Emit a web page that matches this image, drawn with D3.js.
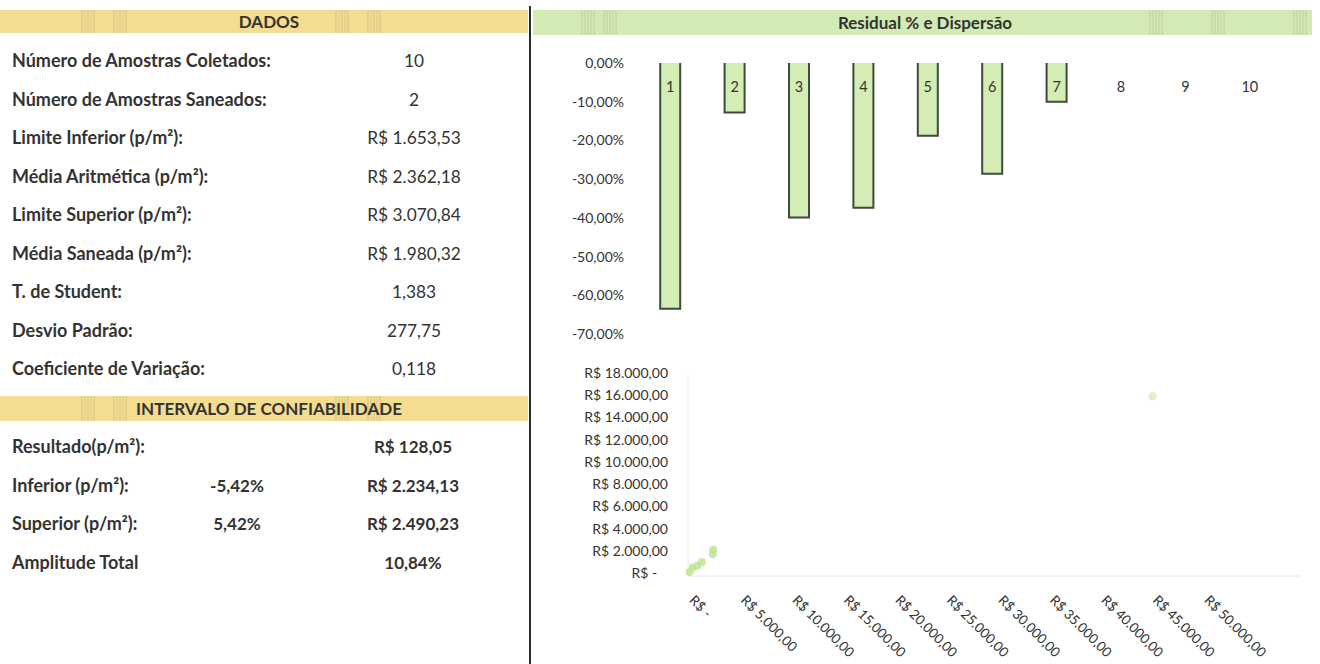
<!DOCTYPE html>
<html>
<head>
<meta charset="utf-8">
<script src="https://cdn.jsdelivr.net/npm/d3@7"></script>
<style>
  body { margin: 0; background: #fff; }
  text { font-family: Lato, "Open Sans", sans-serif; fill: #333; }
  .lbl { font-weight: 700; font-size: 18px; }
  .val { font-size: 17.3px; }
  .bold { font-weight: 700; }
  .tick text { font-size: 14px; }
</style>
</head>
<body>
<div id="chart"></div>
<script>
// ---- data ----
const dadosLabels = ['Número de Amostras Coletados:', 'Número de Amostras Saneados:', 'Limite Inferior (p/m²):',
  'Média Aritmética (p/m²):', 'Limite Superior (p/m²):', 'Média Saneada (p/m²):', 'T. de Student:',
  'Desvio Padrão:', 'Coeficiente de Variação:']
const dadosValues = ['10', '2', 'R$ 1.653,53', 'R$ 2.362,18', 'R$ 3.070,84', 'R$ 1.980,32', '1,383', '277,75', '0,118']
const icLabels = ['Resultado(p/m²):', 'Inferior (p/m²):', 'Superior (p/m²):', 'Amplitude Total']
const icPct = ['', '-5,42%', '5,42%', '']
const icValues = ['R$ 128,05', 'R$ 2.234,13', 'R$ 2.490,23', '10,84%']

const samples = ['1', '2', '3', '4', '5', '6', '7', '8', '9', '10']
const residuals = [-63.5, -12.8, -39.9, -37.4, -18.8, -28.6, -10.0, 0, 0, 0]
const residualTicks = [0, -10, -20, -30, -40, -50, -60, -70]

const scatterX = [150, 450, 900, 1350, 2400, 2450, 45100]
const scatterY = [100, 500, 650, 1000, 1700, 2100, 15900]
const priceTicksY = [0, 2000, 4000, 6000, 8000, 10000, 12000, 14000, 16000, 18000]
const priceTicksX = [0, 5000, 10000, 15000, 20000, 25000, 30000, 35000, 40000, 45000, 50000]

let width = 1320
let height = 664

let ptBR = d3.formatLocale({decimal: ',', thousands: '.', grouping: [3], currency: ['R$ ', ''], minus: '-'})
let fmtMoney = v => v === 0 ? 'R$ -' : ptBR.format('$,.2f')(v)
let fmtPct = v => ptBR.format('.2f')(v) + '%'

let svg = d3.select('#chart').append('svg').attr('width', width).attr('height', height)

// header bands with a bit of scan texture
function header(x0, x1, y0, y1, color, stripes, title, cx) {
    svg.append('rect').attr('x', x0).attr('y', y0).attr('width', x1 - x0).attr('height', y1 - y0).attr('fill', color)
    stripes.forEach(s => {
        for (let k = 0; k < 5; k++) {
            svg.append('line').attr('x1', s + k * 3).attr('x2', s + k * 3).attr('y1', y0).attr('y2', y1)
                .attr('stroke', k % 2 ? '#9fb98a' : '#b9a070').attr('stroke-width', 0.8).attr('opacity', 0.55)
        }
    })
    svg.append('text').attr('x', cx).attr('y', (y0 + y1) / 2 + 6).attr('text-anchor', 'middle')
        .attr('class', 'bold').style('font-size', '17px').text(title)
}
header(0, 528, 10, 33, '#f4dc90', [82, 114, 336, 368], 'DADOS', 269)
header(533, 1312, 10, 35, '#d2ebb4', [582, 604, 1150, 1212, 1294], 'Residual % e Dispersão', 925)
header(0, 528, 396, 421, '#f4dc90', [82, 114, 336, 368], 'INTERVALO DE CONFIABILIDADE', 269)

// divider
svg.append('line').attr('x1', 530).attr('x2', 530).attr('y1', 6).attr('y2', height).attr('stroke', '#2a2a2a').attr('stroke-width', 2)

// left table
let rowY = d3.scaleLinear().domain([0, 8]).range([61, 369])
dadosLabels.forEach((l, i) => {
    svg.append('text').attr('class', 'lbl').attr('x', 12).attr('y', rowY(i) + 6).text(l)
    svg.append('text').attr('class', 'val').attr('x', 414).attr('y', rowY(i) + 6).attr('text-anchor', 'middle').text(dadosValues[i])
})
let icY = d3.scaleLinear().domain([0, 3]).range([447, 563])
icLabels.forEach((l, i) => {
    svg.append('text').attr('class', 'lbl').attr('x', 12).attr('y', icY(i) + 6).text(l)
    svg.append('text').attr('class', 'lbl').style('font-size', '17px').attr('x', 237).attr('y', icY(i) + 6).attr('text-anchor', 'middle').text(icPct[i])
    svg.append('text').attr('class', 'lbl').style('font-size', '17px').attr('x', 413).attr('y', icY(i) + 6).attr('text-anchor', 'middle').text(icValues[i])
})

// residual bars
let x = d3.scaleBand().domain(samples).range([638, 1282])
let y = d3.scaleLinear().domain([-70, 0]).range([334, 63])
let barW = 20

let yAxis = d3.axisLeft(y).tickValues(residualTicks).tickFormat(fmtPct).tickSize(0).tickPadding(0)
let yg = svg.append('g').attr('transform', 'translate(624,0)').call(yAxis)
yg.select('.domain').remove()

let bars = svg.selectAll('.bar').data(residuals).enter().append('g').attr('class', 'bar')
bars.filter(d => d < 0).append('rect')
    .attr('x', (d, i) => x(samples[i]) + x.bandwidth() / 2 - barW / 2)
    .attr('y', y(0))
    .attr('width', barW)
    .attr('height', d => y(d) - y(0))
    .attr('fill', '#d3edb4')
bars.filter(d => d < 0).append('path')
    .attr('d', (d, i) => {
        let x0 = x(samples[i]) + x.bandwidth() / 2 - barW / 2
        return 'M' + x0 + ',' + y(0) + 'V' + y(d) + 'H' + (x0 + barW) + 'V' + y(0)
    })
    .attr('fill', 'none').attr('stroke', '#3e4a3c').attr('stroke-width', 2)
bars.append('text')
    .attr('x', (d, i) => x(samples[i]) + x.bandwidth() / 2)
    .attr('y', 92)
    .attr('text-anchor', 'middle').style('font-size', '14.5px')
    .text((d, i) => samples[i])

// scatter
let sx = d3.scaleLinear().domain([0, 50000]).range([688, 1203])
let sy = d3.scaleLinear().domain([0, 18000]).range([573, 373])

svg.append('line').attr('x1', sx(0)).attr('x2', sx(0)).attr('y1', sy(18000)).attr('y2', sy(0)).attr('stroke', '#ececec')
svg.append('line').attr('x1', sx(0)).attr('x2', 1300).attr('y1', sy(0) + 3).attr('y2', sy(0) + 3).attr('stroke', '#e6e6e6')

let syAxis = d3.axisLeft(sy).tickValues(priceTicksY).tickFormat(v => v === 0 ? 'R$ -\u00a0\u00a0\u00a0' : fmtMoney(v)).tickSize(0).tickPadding(0)
let syg = svg.append('g').attr('transform', 'translate(668,0)').call(syAxis)
syg.select('.domain').remove()

let sxg = svg.append('g').attr('transform', 'translate(0,' + (sy(0) + 28) + ')')
    .call(d3.axisBottom(sx).tickValues(priceTicksX).tickFormat(fmtMoney).tickSize(0).tickPadding(0))
sxg.select('.domain').remove()
sxg.selectAll('text').attr('text-anchor', 'start').attr('dy', 0)
    .attr('transform', 'rotate(45)').style('font-size', '13.5px')

svg.selectAll('.pt').data(scatterX).enter().append('circle').attr('class', 'pt')
    .attr('cx', d => sx(d)).attr('cy', (d, i) => sy(scatterY[i])).attr('r', 4)
    .attr('fill', '#bde496').attr('opacity', (d, i) => i === scatterX.length - 1 ? 0.5 : 0.85)
</script>
</body>
</html>
